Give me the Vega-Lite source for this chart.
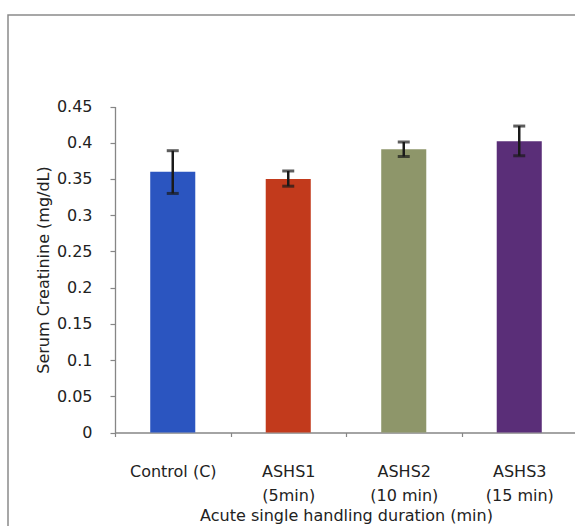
{
  "$schema": "https://vega.github.io/schema/vega-lite/v6.json",
  "autosize": {"type": "none"},
  "padding": {"left": 8, "top": 15, "right": 0, "bottom": 0},
  "width": 575,
  "height": 520,
  "background": "#ffffff",
  "config": {
    "view": {"stroke": "#8a8a8a", "strokeWidth": 1.5},
    "font": "DejaVu Sans",
    "axis": {"grid": false, "domainColor": "#868686", "tickColor": "#868686", "domainWidth": 1.3, "tickWidth": 1.2, "labelColor": "#222222", "titleColor": "#222222", "labelFont": "DejaVu Sans", "titleFont": "DejaVu Sans", "labelFontSize": 16, "titleFontSize": 16, "titleFontWeight": "normal"}
  },
  "data": {
    "values": [
      {"group": "Control  (C)", "value": 0.36, "lo": 0.33, "hi": 0.389},
      {"group": "ASHS1 (5min)", "value": 0.35, "lo": 0.34, "hi": 0.361},
      {"group": "ASHS2 (10 min)", "value": 0.391, "lo": 0.381, "hi": 0.401},
      {"group": "ASHS3 (15 min)", "value": 0.402, "lo": 0.382, "hi": 0.423}
    ]
  },
  "encoding": {
    "x": {
      "field": "group", "type": "nominal", "sort": null,
      "scale": {"range": [107, 569], "paddingInner": 0, "paddingOuter": 0},
      "axis": {
        "title": "Acute single handling duration (min)",
        "labelAngle": 0,
        "offset": -102.5,
        "tickBand": "extent",
        "tickSize": 4,
        "labelPadding": 27,
        "labelLineHeight": 24,
        "titlePadding": 4,
        "labelExpr": "indexof(datum.label, 'ASHS') == 0 ? [substring(datum.label, 0, 5), substring(datum.label, 6)] : datum.label"
      }
    }
  },
  "layer": [
    {
      "mark": {"type": "bar", "width": {"band": 0.39}},
      "encoding": {
        "y": {
          "field": "value", "type": "quantitative",
          "scale": {"domain": [0, 0.45], "range": [417.5, 91.5], "nice": false},
          "axis": {
            "title": "Serum Creatinine (mg/dL)",
            "values": [0, 0.05, 0.1, 0.15, 0.2, 0.25, 0.3, 0.35, 0.4, 0.45],
            "format": "~g",
            "offset": -107,
            "tickSize": 5,
            "labelPadding": 18,
            "titlePadding": 5
          }
        },
        "color": {
          "field": "group", "type": "nominal", "sort": null,
          "scale": {"domain": ["Control  (C)", "ASHS1 (5min)", "ASHS2 (10 min)", "ASHS3 (15 min)"], "range": ["#2b55c0", "#c23a1c", "#8e966a", "#5a2e78"]},
          "legend": null
        }
      }
    },
    {
      "mark": {"type": "rule", "color": "#1a1a1a", "strokeWidth": 2.5},
      "encoding": {
        "y": {"field": "lo", "type": "quantitative"},
        "y2": {"field": "hi"}
      }
    },
    {
      "mark": {"type": "tick", "color": "#1a1a1a", "size": 12, "thickness": 3},
      "encoding": {
        "y": {"field": "lo", "type": "quantitative"}
      }
    },
    {
      "mark": {"type": "tick", "color": "#1a1a1a", "size": 12, "thickness": 3},
      "encoding": {
        "y": {"field": "hi", "type": "quantitative"}
      }
    }
  ]
}
